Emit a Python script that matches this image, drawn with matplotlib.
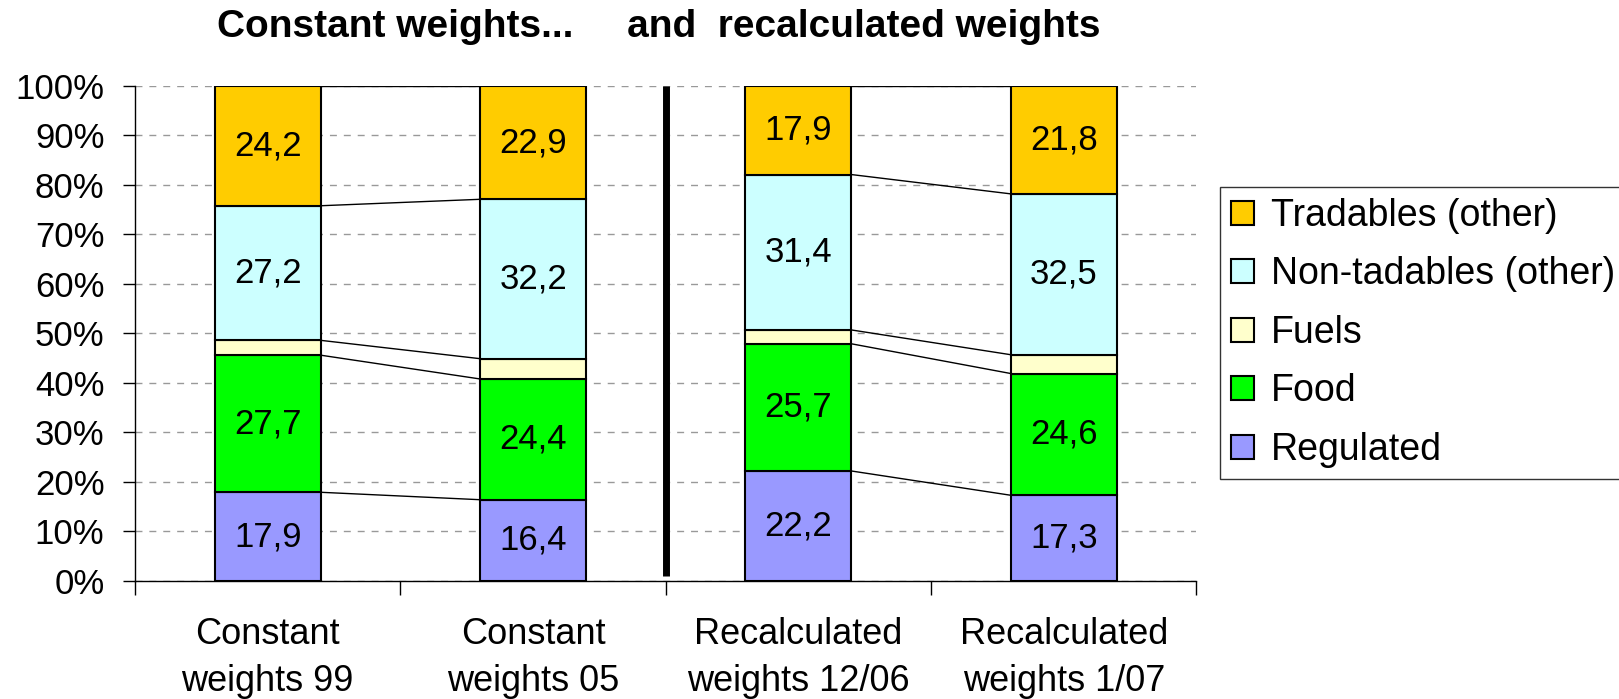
import numpy as np
import matplotlib
matplotlib.use("Agg")
import matplotlib.pyplot as plt

plt.rcParams['font.family'] = ['Liberation Sans', 'DejaVu Sans']

# data (shares in %, bottom to top)
categories = ['Constant\nweights 99', 'Constant\nweights 05',
              'Recalculated\nweights 12/06', 'Recalculated\nweights 1/07']
series = ['Regulated', 'Food', 'Fuels', 'Non-tadables (other)', 'Tradables (other)']
regulated = [17.9, 16.4, 22.2, 17.3]
food = [27.7, 24.4, 25.7, 24.6]
fuels = [3.0, 4.1, 2.8, 3.8]
nontradables = [27.2, 32.2, 31.4, 32.5]
tradables = [24.2, 22.9, 17.9, 21.8]
colors = ['#9999FF', '#00FF00', '#FFFFCC', '#CCFFFF', '#FFCC00']
show_label = [True, True, False, True, True]

values = np.array([regulated, food, fuels, nontradables, tradables])

fig = plt.figure(figsize=(16.19, 6.99), dpi=100)
ax = fig.add_axes([0.0834, 0.169, 0.6556, 0.708])

x = np.arange(len(categories))
w = 0.4
bottom = np.zeros(len(categories))
bars = []
for i, name in enumerate(series):
    b = ax.bar(x, values[i], w, bottom=bottom, color=colors[i],
               edgecolor='black', linewidth=1.5, label=name, zorder=3)
    bars.append(b)
    if show_label[i]:
        for j in range(len(categories)):
            ax.text(x[j], bottom[j] + values[i][j] / 2,
                    ('%.1f' % values[i][j]).replace('.', ','),
                    ha='center', va='center', fontsize=25, zorder=4)
    bottom = bottom + values[i]

# connecting lines between pairs of bars
cum = np.cumsum(values, axis=0)
for a, b in [(0, 1), (2, 3)]:
    for k in range(len(series)):
        ax.plot([x[a] + w / 2, x[b] - w / 2], [cum[k][a], cum[k][b]],
                color='black', linewidth=1, zorder=2)

# separator
ax.plot([1.5, 1.5], [1, 100], color='black', linewidth=5, zorder=5,
        solid_capstyle='butt')

ax.set_xlim(-0.5, 3.5)
ax.set_ylim(0, 100)
ax.set_yticks(np.arange(0, 101, 10))
ax.set_yticklabels(['%d%%' % v for v in range(0, 101, 10)], fontsize=25)
ax.yaxis.grid(True, linestyle=(0, (5, 5)), color='#999999', linewidth=1, zorder=0)
ax.set_axisbelow(True)

ax.set_xticks(x)
ax.set_xticklabels(categories, fontsize=26, linespacing=1.45)
ax.set_xticks(np.arange(-0.5, 4, 1), minor=True)
ax.tick_params(axis='x', which='major', length=0, pad=26)
ax.tick_params(axis='x', which='minor', length=10, width=1)
ax.tick_params(axis='y', length=9, width=1, pad=13)

for s in ['top', 'right']:
    ax.spines[s].set_visible(False)
ax.spines['left'].set_linewidth(1)
ax.spines['bottom'].set_linewidth(1)

handles = [bars[i] for i in range(len(series))][::-1]
labels = series[::-1]
leg = fig.legend(handles, labels, loc='upper left', bbox_to_anchor=(0.7536, 0.733),
                 fontsize=27, frameon=True, fancybox=False, edgecolor='black',
                 handlelength=0.6, handleheight=0.6, handletextpad=0.45,
                 labelspacing=0.6, borderpad=0.3, borderaxespad=0)
leg.get_frame().set_linewidth(1)

fig.text(0.407, 0.962, 'Constant weights...     and  recalculated weights',
         ha='center', va='center', fontsize=28, fontweight='bold')

fig.savefig('out.png', dpi=100)
